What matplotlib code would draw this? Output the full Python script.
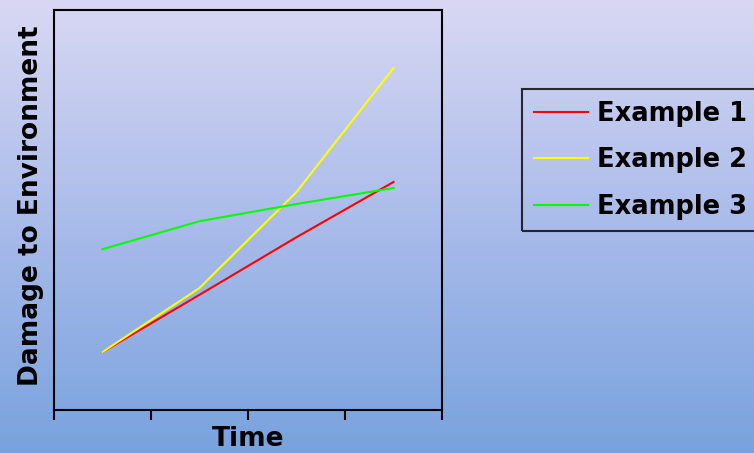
import numpy as np
import matplotlib as mpl
mpl.use('Agg')
import matplotlib.pyplot as plt
from matplotlib.colors import LinearSegmentedColormap

# time periods (category slots) and damage readings for each example
periods = [0.5, 1.5, 2.5, 3.5]
example1 = [14.5, 28.8, 43.2, 57.0]
example2 = [14.5, 30.5, 54.5, 85.5]
example3 = [40.2, 47.2, 51.5, 55.5]
series_names = ['Example 1', 'Example 2', 'Example 3']
series_colors = ['#ff0000', '#ffff00', '#00ff00']

plt.rcParams['font.family'] = ['DejaVu Sans']

fig = plt.figure(figsize=(7.54, 4.53), dpi=100)

# slide-style background gradient, lavender at the top fading to blue
bg = fig.add_axes([0, 0, 1, 1], zorder=-10)
bg.axis('off')
grad = LinearSegmentedColormap.from_list('bg', ['#d8d8f3', '#a9bbea', '#78a2de'])
bg.imshow(np.linspace(0, 1, 256).reshape(-1, 1), cmap=grad, aspect='auto',
          extent=[0, 1, 0, 1], origin='upper')

ax = fig.add_axes([0.0716, 0.0949, 0.5146, 0.883])
ax.patch.set_alpha(0)

for vals, name, col in zip([example1, example2, example3], series_names, series_colors):
    ax.plot(periods, vals, color=col, lw=1.5, label=name)

ax.set_xlim(0, 4)
ax.set_ylim(0, 100)
ax.set_xticks([0, 1, 2, 3, 4])
ax.set_xticklabels([])
ax.set_yticks([])
ax.tick_params(axis='x', direction='out', length=7.5, width=1.5, color='black')
for sp in ax.spines.values():
    sp.set_linewidth(1.5)
    sp.set_color('black')

fig.text(31 / 754, 1 - 206 / 453, 'Damage to Environment', rotation=90,
         ha='center', va='center', fontsize=19, fontweight='bold')
fig.text(248 / 754, 1 / 453, 'Time', ha='center', va='bottom',
         fontsize=19, fontweight='bold')

leg = fig.legend(loc='upper left', bbox_to_anchor=(522 / 754, 1 - 89 / 453),
                 bbox_transform=fig.transFigure, frameon=True, fancybox=False,
                 prop={'size': 18.5, 'weight': 'bold'}, handlelength=2.1,
                 handletextpad=0.35, labelspacing=0.8, borderpad=0.45,
                 borderaxespad=0)
leg.get_frame().set_edgecolor('black')
leg.get_frame().set_linewidth(1.5)
leg.get_frame().set_facecolor('none')
for line in leg.get_lines():
    line.set_linewidth(1.5)

fig.savefig('out.png', dpi=100)
